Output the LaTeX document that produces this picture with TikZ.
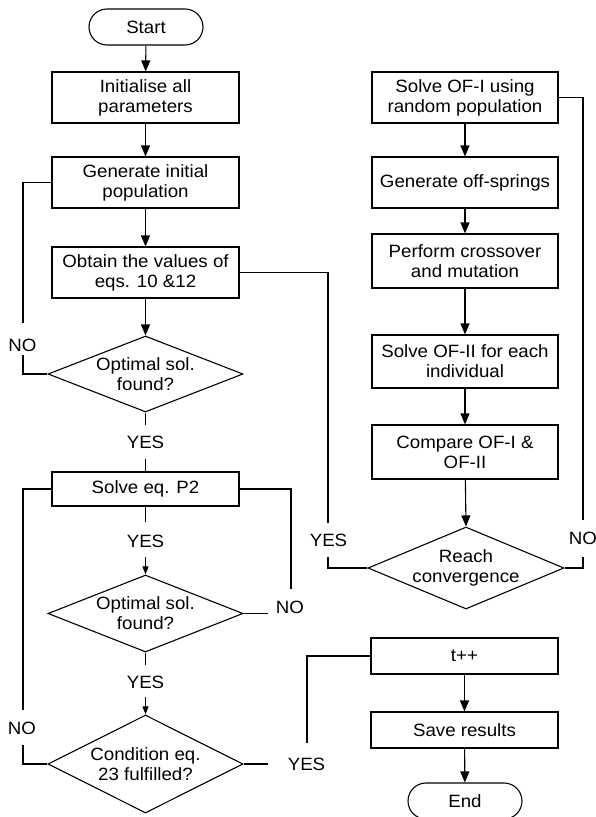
\documentclass[tikz,border=0pt]{standalone}
\usepackage{fontspec}
\setmainfont[FakeStretch=1.05]{Liberation Sans}
\usetikzlibrary{shapes.geometric,arrows.meta}
\begin{document}
\begin{tikzpicture}[x=1pt,y=-1pt,line width=1.1pt,
  txt/.style={font=\fontsize{17.8}{20}\selectfont, align=center, inner sep=0pt},
  box/.style={txt, draw, minimum width=187pt},
  term/.style={txt, draw, rounded corners=18pt, minimum width=114pt, minimum height=36pt},
  dia/.style={draw, diamond, inner sep=0pt, minimum width=195pt},
  arr/.style={-{Triangle[length=11pt,width=9pt]}},
  sarr/.style={-{Triangle[length=8pt,width=6pt]}}]
\useasboundingbox (0,0) rectangle (596,817);
% left column
\node[term] (start) at (146,27) {Start};
\node[box, minimum height=51pt] (init) at (145.5,97.5) {Initialise all\\parameters};
\node[box, minimum height=51pt] (gen) at (145.5,182.5) {Generate initial\\population};
\node[box, minimum height=51pt] (obt) at (145.5,272.5) {Obtain the values of\\eqs. 10 \&12};
\node[dia, minimum height=76pt] (d1) at (145.5,374) {};
\node[txt] (d1t) at (d1) {Optimal sol.\\found?};
\node[box, minimum height=34pt] (p2) at (145.5,489) {Solve eq. P2};
\node[dia, minimum height=77pt] (d2) at (145.5,613.5) {};
\node[txt] (d2t) at (d2) {Optimal sol.\\found?};
\node[dia, minimum height=98pt] (d3) at (145.5,764) {};
\node[txt] (d3t) at (d3) {Condition eq.\\23 fulfilled?};
% right column
\node[box, minimum height=51pt, minimum width=186pt] (s1) at (465,97.5) {Solve OF-I using\\random population};
\node[box, minimum height=51pt, minimum width=186pt] (goff) at (465,182.5) {Generate off-springs};
\node[box, minimum height=54pt, minimum width=186pt] (perf) at (465,261) {Perform crossover\\and mutation};
\node[box, minimum height=53pt, minimum width=186pt] (s2) at (465,361.5) {Solve OF-II for each\\individual};
\node[box, minimum height=54pt, minimum width=186pt] (cmp) at (465,452) {Compare OF-I \&\\OF-II};
\node[dia, minimum width=196pt, minimum height=82pt] (d4) at (466,568) {};
\node[txt] (d4t) at (d4) {Reach\\convergence};
\node[box, minimum height=36pt] (tpp) at (464.5,656) {t++};
\node[box, minimum height=36pt] (save) at (464.5,730) {Save results};
\node[term] (end) at (465,801) {End};
% labels
\node[txt] (no1) at (22.5,345) {NO};
\node[txt] (yes1) at (145.5,442) {YES};
\node[txt] (yes2) at (145.5,541) {YES};
\node[txt] (no2) at (290,607) {NO};
\node[txt] (yes3) at (145.5,682) {YES};
\node[txt] (no3) at (22,728) {NO};
\node[txt] (yes4) at (306.5,764) {YES};
\node[txt] (yes5) at (328.5,540) {YES};
\node[txt] (no4) at (583,538) {NO};
% free ends
\coordinate (a1) at (23,323);  \coordinate (a2) at (23,355);
\coordinate (b1) at (145.5,425); \coordinate (b2) at (145.5,459);
\coordinate (c1) at (145.5,522); \coordinate (c2) at (145.5,557);
\coordinate (e1) at (145.5,665); \coordinate (e2) at (145.5,697);
\coordinate (f1) at (23,710);  \coordinate (f2) at (23,745);
\coordinate (g1) at (291,589); \coordinate (g2) at (268,613.5);
\coordinate (h1) at (268,764); \coordinate (h2) at (307,743);
\coordinate (k1) at (328,523); \coordinate (k2) at (328,557);
\coordinate (m1) at (583,520); \coordinate (m2) at (583,557);
% connectors left
\draw[arr] (start) -- (init);
\draw[arr] (init) -- (gen);
\draw[arr] (gen) -- (obt);
\draw[arr] (obt) -- (d1.north);
\draw (gen.west) -| (a1);
\draw (a2) |- (d1.west);
\draw (d1.south) -- (b1);
\draw (b2) -- (p2.north);
\draw (p2.south) -- (c1);
\draw[sarr] (c2) -- (d2.north);
\draw (d2.south) -- (e1);
\draw[sarr] (e2) -- (d3.north);
\draw (p2.west) -| (f1);
\draw (f2) |- (d3.west);
\draw (p2.east) -| (g1);
\draw (d2.east) -- (g2);
\draw (d3.east) -- (h1);
\draw (h2) |- (tpp.west);
\draw (obt.east) -| (k1);
\draw (k2) |- (d4.west);
\draw (s1.east) -| (m1);
\draw (m2) |- (d4.east);
% connectors right
\draw[arr] (s1) -- (goff);
\draw[arr] (goff) -- (perf);
\draw[arr] (perf) -- (s2);
\draw[arr] (s2) -- (cmp);
\draw[arr] (cmp) -- (d4.north);
\draw[arr] (tpp) -- (save);
\draw[arr] (save) -- (end);
\end{tikzpicture}
\end{document}
